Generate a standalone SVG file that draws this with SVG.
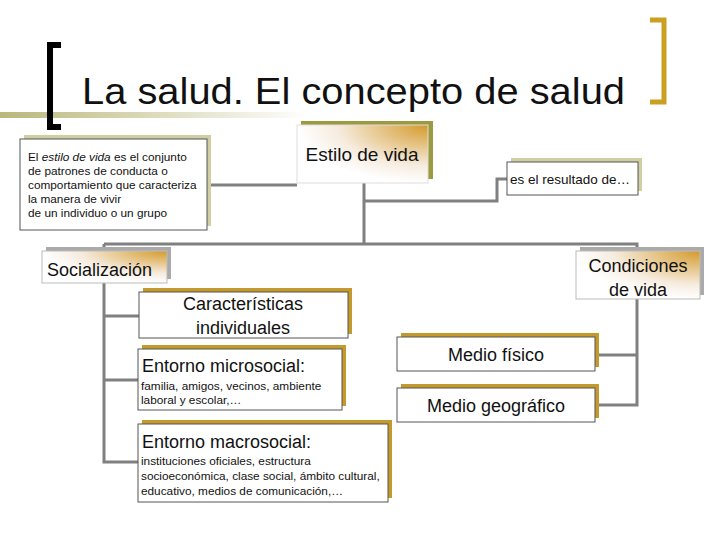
<svg xmlns="http://www.w3.org/2000/svg" width="720" height="540" viewBox="0 0 720 540">
<defs>
<style>
text{font-family:"Liberation Sans",Arial,sans-serif;fill:#111}
.box{fill:#fff;stroke:#555;stroke-width:1}
.big{font-size:18px}
.sm{font-size:11.8px}
.c{text-anchor:middle}
.gold{fill:#c49a2c}
.beige{fill:#cfcfa3}
.gray{fill:#aaa}
.olive{fill:#9c9a40}
.conn path{fill:none;stroke:#808080;stroke-width:3}
</style>
<linearGradient id="olv" x1="0" x2="1" y1="0" y2="0"><stop offset="0" stop-color="#b9b77a"/><stop offset="1" stop-color="#b9b77a" stop-opacity="0"/></linearGradient>
<radialGradient id="gg" cx="1" cy="0" r="1"><stop offset="0" stop-color="#d49a2a"/><stop offset="0.7" stop-color="#f6ecdf"/><stop offset="1" stop-color="#fff"/></radialGradient>
</defs>
<rect width="720" height="540" fill="#fff"/>
<g id="title">
<rect x="0" y="112" width="310" height="6" fill="url(#olv)"/>
<path d="M61 45 H50 V127 H61" fill="none" stroke="#000" stroke-width="6"/>
<path d="M650 20 H664 V102 H650" fill="none" stroke="#c9a020" stroke-width="5"/>
<text x="82" y="104" font-size="37" textLength="543" lengthAdjust="spacingAndGlyphs">La salud. El concepto de salud</text>
</g>
<g class="conn">
<path d="M207 185 H297"/>
<path d="M364 183 V244"/>
<path d="M364 201 H497 V179 H507"/>
<path d="M104 244 H637 V251"/>
<path d="M104 244 V462 H138"/>
<path d="M104 316 H139"/>
<path d="M104 380 H138"/>
<path d="M637 299 V405 H597"/>
<path d="M637 355 H597"/>
</g>
<g id="definicion">
<rect class="beige" x="24" y="135" width="187" height="91"/>
<rect class="box" x="20" y="139" width="187" height="91" stroke="#ccc"/>
<text class="sm" x="28" y="161">El <tspan font-style="italic">estilo de vida</tspan> es el conjunto</text>
<text class="sm" x="28" y="175">de patrones de conducta o</text>
<text class="sm" x="28" y="189">comportamiento que caracteriza</text>
<text class="sm" x="28" y="203">la manera de vivir</text>
<text class="sm" x="28" y="217">de un individuo o un grupo</text>
</g>
<g id="estilo">
<rect class="olive" x="301" y="121" width="132" height="58"/>
<rect x="297" y="125" width="131" height="58" fill="url(#gg)" stroke="#ddd"/>
<text class="c" x="362" y="161" font-size="19">Estilo de vida</text>
</g>
<g id="resultado">
<rect class="beige" x="511" y="158" width="131" height="33"/>
<rect class="box" x="507" y="162" width="131" height="33" stroke="#ccc"/>
<text x="510" y="184" font-size="13.5">es el resultado de…</text>
</g>
<g id="socializacion">
<rect class="gray" x="46" y="247" width="125" height="32"/>
<rect x="42" y="251" width="125" height="32" fill="url(#gg)" stroke="#bbb"/>
<text class="big" x="47" y="276">Socialización</text>
</g>
<g id="condiciones">
<rect class="gray" x="580" y="247" width="124" height="48"/>
<rect x="576" y="251" width="124" height="48" fill="url(#gg)" stroke="#bbb"/>
<text class="big c" x="638" y="272">Condiciones</text>
<text class="big c" x="638" y="296">de vida</text>
</g>
<g id="caracteristicas">
<rect class="gold" x="143" y="288" width="209" height="46"/>
<rect class="box" x="139" y="292" width="209" height="46"/>
<text class="big c" x="243" y="310">Características</text>
<text class="big c" x="243" y="334">individuales</text>
</g>
<g id="microsocial">
<rect class="gold" x="142" y="345" width="204" height="61"/>
<rect class="box" x="138" y="349" width="204" height="61"/>
<text class="big" x="142" y="372">Entorno microsocial:</text>
<text class="sm" x="141" y="390">familia, amigos, vecinos, ambiente</text>
<text class="sm" x="141" y="404">laboral y escolar,…</text>
</g>
<g id="macrosocial">
<rect class="gold" x="142" y="420" width="250" height="78"/>
<rect class="box" x="138" y="424" width="250" height="78"/>
<text class="big" x="142" y="448">Entorno macrosocial:</text>
<text class="sm" x="141" y="465">instituciones oficiales, estructura</text>
<text class="sm" x="141" y="480">socioeconómica, clase social, ámbito cultural,</text>
<text class="sm" x="141" y="495">educativo, medios de comunicación,…</text>
</g>
<g id="fisico">
<rect class="gold" x="401" y="333" width="198" height="34"/>
<rect class="box" x="397" y="337" width="198" height="34"/>
<text class="big c" x="496" y="361">Medio físico</text>
</g>
<g id="geografico">
<rect class="gold" x="401" y="384" width="198" height="34"/>
<rect class="box" x="397" y="388" width="198" height="34"/>
<text class="big c" x="496" y="412">Medio geográfico</text>
</g>
</svg>
